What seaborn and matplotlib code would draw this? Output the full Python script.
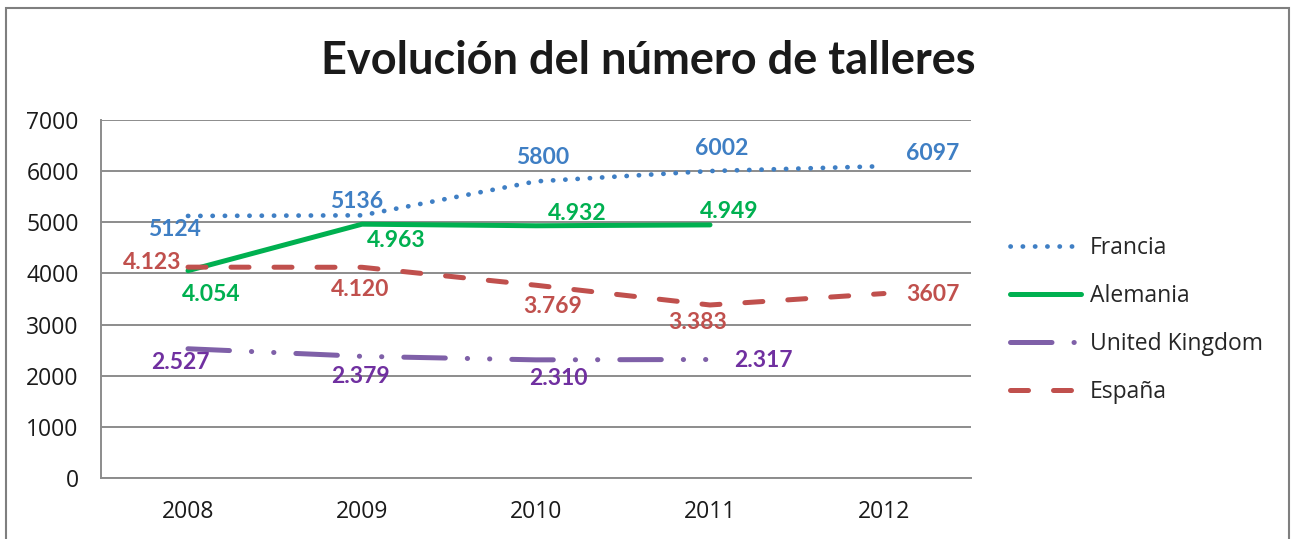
import matplotlib
matplotlib.use("Agg")
import matplotlib.pyplot as plt
from matplotlib.patches import Rectangle
import seaborn as sns

# data
years = ["2008", "2009", "2010", "2011", "2012"]
francia = [5124, 5136, 5800, 6002, 6097]
alemania = [4054, 4963, 4932, 4949]
reino_unido = [2527, 2379, 2310, 2317]
espana = [4123, 4120, 3769, 3383, 3607]

francia_lbl = ["5124", "5136", "5800", "6002", "6097"]
alemania_lbl = ["4.054", "4.963", "4.932", "4.949"]
reino_unido_lbl = ["2.527", "2.379", "2.310", "2.317"]
espana_lbl = ["4.123", "4.120", "3.769", "3.383", "3607"]

# label offsets (pixels, dx right / dy up)
off_fr = [(-14, -14), (-5, 14), (7, 24), (12, 23), (49, 13)]
off_de = [(23, -24), (34, -16), (41, 12), (19, 13)]
off_uk = [(-8, -14), (-2, -20), (22, -19), (53, -1)]
off_es = [(-36, 5), (-2, -22), (17, -21), (-12, -18), (49, -1)]

sns.set_theme(style="white")
plt.rcParams["font.family"] = ["Open Sans", "DejaVu Sans"]

fig = plt.figure(figsize=(12.91, 5.39), dpi=100)
ax = fig.add_axes([101 / 1291, 1 - 478 / 539, 870 / 1291, 358 / 539])

c_fr, c_de, c_uk, c_es = "#3F7FC4", "#00B050", "#7F60A8", "#C0504D"
t_uk = "#7030A0"

sns.lineplot(x=years, y=francia, ax=ax, color=c_fr, lw=3.4, label="Francia",
             linestyle=(0, (0.05, 2.55)), dash_capstyle="round", solid_capstyle="round")
sns.lineplot(x=years[:4], y=alemania, ax=ax, color=c_de, lw=3.6, label="Alemania",
             solid_capstyle="round")
sns.lineplot(x=years[:4], y=reino_unido, ax=ax, color=c_uk, lw=3.6, label="United Kingdom",
             linestyle=(0, (8.3, 4.4, 0.05, 4.4, 0.05, 4.4)), dash_capstyle="round")
sns.lineplot(x=years, y=espana, ax=ax, color=c_es, lw=3.6, label="España",
             linestyle=(0, (3.6, 5.0)), dash_capstyle="round")

lab_font = dict(fontsize=16.5, fontweight="bold", family=["Lato", "DejaVu Sans"],
                ha="center", va="center", textcoords="offset pixels")
for vals, lbls, offs, col in [(francia, francia_lbl, off_fr, c_fr),
                              (alemania, alemania_lbl, off_de, c_de),
                              (reino_unido, reino_unido_lbl, off_uk, t_uk),
                              (espana, espana_lbl, off_es, c_es)]:
    for i, (v, t, o) in enumerate(zip(vals, lbls, offs)):
        ax.annotate(t, (i, v), xytext=o, color=col, **lab_font)

ax.set_xlim(-0.5, 4.5)
ax.set_ylim(0, 7000)
ax.set_yticks(range(0, 7001, 1000))
ax.yaxis.grid(True, color="#8C8C8C", lw=1.4)
ax.set_axisbelow(True)
for s in ["top", "right"]:
    ax.spines[s].set_visible(False)
for s in ["left", "bottom"]:
    ax.spines[s].set_color("#8C8C8C")
    ax.spines[s].set_linewidth(1.4)
ax.tick_params(axis="y", length=0, pad=16, labelsize=16.5, labelcolor="#1a1a1a")
ax.tick_params(axis="x", length=0, pad=16, labelsize=16.5, labelcolor="#1a1a1a")
ax.set_xlabel("")
ax.set_ylabel("")

h, l = ax.get_legend_handles_labels()
fig.legend(h, l, loc="center left", bbox_to_anchor=(1010 / 1291, 1 - 320 / 539),
           frameon=False, fontsize=16.5, handlelength=3.1, handletextpad=0.4,
           labelspacing=1.05, borderpad=0, borderaxespad=0)
ax.get_legend().remove()

fig.text(648 / 1291, 1 - 61 / 539, "Evolución del número de talleres", ha="center",
         va="center", fontsize=32.5, fontweight="bold", color="#1a1a1a",
         family=["Lato", "DejaVu Sans"])

fig.patches.append(Rectangle((6 / 1291, -0.05), 1283 / 1291, 1.05 - 8 / 539,
                             transform=fig.transFigure, fill=False,
                             edgecolor="#7F7F7F", lw=1.5))

fig.savefig("out.png", dpi=100)
